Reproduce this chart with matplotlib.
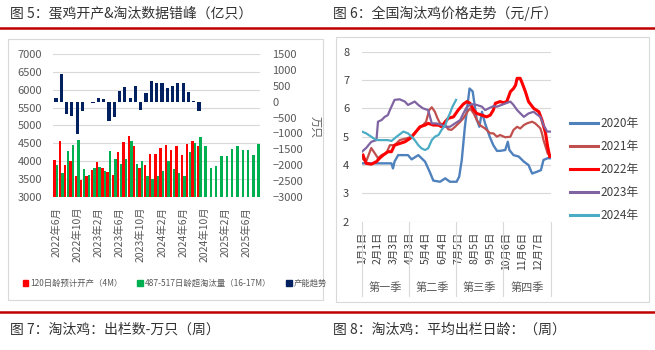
import numpy as np
import matplotlib.pyplot as plt
from matplotlib.lines import Line2D
from matplotlib.patches import Patch, Rectangle

plt.rcParams["font.family"] = ["Noto Sans CJK SC", "DejaVu Sans"]

# ---------------- 图5 data (monthly, 2022-06 .. 2025-08) ----------------
month_tick_labels = ["2022年6月", "2022年10月", "2023年2月", "2023年6月", "2023年10月",
                     "2024年2月", "2024年6月", "2024年10月", "2025年2月", "2025年6月"]
open_120d = [4030, 4580, 3900, 4020, 3600, 3480, 3590, 3750, 3990, 3800, 3700, 3610,
             4270, 4530, 4700, 4440, 3810, 3890, 4190, 4190, 4360, 4450, 4310, 4420,
             4170, 4480, 4570, 4430] + [np.nan] * 11
cull_487_517d = [3900, 3680, 4290, 4450, 4600, 3770, 3610, 3800, 3830, 3720, 4290, 4070,
                 3930, 4050, 4580, 3910, 4020, 3600, 3490, 3580, 3740, 4000, 3790, 3670,
                 3590, 4270, 4500, 4690, 4420, 3800, 3870, 4160, 4160, 4340, 4430, 4310,
                 4310, 4170, 4480]
capacity_trend = [100, 870, -400, -450, -1030, -300, -20, -50, 125, 72, -610, -480,
                  320, 450, 100, 500, -250, 260, 650, 590, 580, 430, 490, 600,
                  580, 300, 30, -280] + [np.nan] * 11
bar_legend = ["120日龄预计开产（4M）", "487-517日龄超淘汰量（16-17M）", "产能趋势"]

# ---------------- 图6 data (day of year, 元/斤) ----------------
day_ticks = [0, 31, 62, 93, 124, 155, 186, 217, 248, 279, 310, 341]
day_tick_labels = ["1月1日", "2月1日", "3月3日", "4月3日", "5月4日", "6月4日",
                   "7月5日", "8月5日", "9月5日", "10月6日", "11月6日", "12月7日"]
quarter_labels = ["第一季", "第二季", "第三季", "第四季"]
quarter_edges = [-0.5, 90.5, 181.5, 273.5, 365.5]

days_2020 = [2, 34, 57, 60, 63, 70, 89, 96, 109, 122, 131, 138, 151, 161, 170, 183, 188,
             193, 199, 208, 214, 222, 227, 232, 238, 247, 254, 261, 267, 277, 282, 285,
             293, 303, 313, 322, 329, 338, 346, 351, 359, 365]
price_2020 = [4.06, 4.06, 4.06, 3.88, 4.12, 4.35, 4.35, 4.2, 4.35, 4.12, 3.76, 3.45,
              3.41, 3.53, 3.41, 3.41, 3.59, 4.18, 5.35, 6.7, 6.6, 5.6, 5.35, 5.88, 5.47,
              5.0, 4.7, 4.5, 4.5, 4.53, 4.82, 4.53, 4.35, 4.3, 4.12, 4.0, 3.7, 3.76,
              3.82, 4.18, 4.24, 4.24]
days_2021 = [0, 8, 18, 25, 31, 38, 47, 54, 63, 73, 86, 96, 104, 118, 124, 130, 135, 141,
             146, 151, 161, 167, 173, 180, 190, 196, 204, 209, 216, 222, 228, 238, 248,
             254, 261, 267, 277, 287, 293, 300, 306, 313, 319, 329, 335, 342, 345, 348,
             351, 355, 359, 363]
price_2021 = [4.24, 4.12, 4.6, 4.41, 4.24, 4.35, 4.41, 4.7, 4.7, 4.88, 4.94, 5.0, 5.18,
              5.41, 5.53, 5.94, 6.04, 5.88, 5.65, 5.47, 5.41, 5.26, 5.24, 5.35, 5.53,
              5.65, 5.88, 6.0, 5.82, 5.59, 5.41, 5.29, 5.12, 5.12, 5.0, 5.06, 4.98, 5.0,
              5.24, 5.35, 5.29, 5.41, 5.47, 5.53, 5.47, 5.35, 5.29, 5.12, 4.88, 4.65,
              4.41, 4.35]
days_2022 = [2, 8, 18, 28, 34, 41, 50, 57, 63, 73, 83, 93, 102, 112, 122, 128, 138, 148,
             154, 161, 167, 177, 186, 196, 203, 209, 216, 222, 232, 241, 248, 254, 258,
             267, 274, 280, 287, 293, 297, 300, 306, 310, 316, 322, 332, 342, 348, 355,
             359, 363]
price_2022 = [4.35, 4.06, 4.03, 4.12, 4.24, 4.35, 4.47, 4.47, 4.7, 4.76, 4.82, 4.94,
              5.12, 5.35, 5.41, 5.47, 5.41, 5.41, 5.35, 5.53, 5.65, 5.7, 5.94, 6.15,
              6.24, 6.18, 5.94, 5.82, 5.76, 5.7, 5.76, 5.94, 6.18, 6.24, 6.2, 6.24, 6.59,
              6.7, 6.82, 7.06, 7.06, 6.88, 6.59, 6.24, 6.0, 5.88, 5.59, 5.12, 4.65, 4.3]
days_2023 = [0, 8, 18, 28, 31, 38, 44, 50, 54, 63, 73, 83, 89, 102, 109, 118, 128, 135,
             144, 154, 161, 170, 180, 190, 196, 203, 212, 222, 232, 238, 245, 254, 261,
             274, 287, 293, 300, 313, 322, 332, 338, 345, 351, 358, 365]
price_2023 = [4.47, 4.6, 4.82, 4.88, 5.53, 5.59, 5.7, 5.76, 5.94, 6.3, 6.32, 6.24, 6.12,
              6.24, 6.12, 6.0, 5.94, 5.47, 5.47, 5.41, 5.35, 5.35, 5.47, 5.59, 5.82,
              6.06, 6.15, 6.12, 6.06, 5.94, 6.0, 6.08, 6.06, 6.15, 6.24, 6.12, 5.94,
              5.7, 5.82, 5.88, 5.79, 5.7, 5.41, 5.18, 5.18]
days_2024 = [0, 8, 18, 25, 31, 50, 57, 67, 80, 89, 96, 102, 109, 115, 122, 128, 135,
             141, 148, 154, 161, 167, 170, 175, 182]
price_2024 = [5.18, 5.12, 5.0, 4.91, 4.88, 4.88, 4.85, 5.0, 5.18, 5.12, 5.0, 4.88, 4.7,
              4.59, 4.53, 4.59, 4.88, 5.0, 5.06, 5.24, 5.41, 5.7, 5.82, 6.06, 6.3]


def fx(px):
    return px / 655


def fy(py):
    return 1 - py / 350


GRID = "#D9D9D9"
TICK = "#595959"

fig = plt.figure(figsize=(6.55, 3.5), dpi=100)

# header / footer rules and captions
for y in (28, 312):
    fig.add_artist(Line2D([0, 1], [fy(y), fy(y)], color="#C00000", lw=1.8))
fig.text(fx(10), fy(13), "图 5：蛋鸡开产&淘汰数据错峰（亿只）", fontsize=10, va="center", color="#333333")
fig.text(fx(333), fy(13), "图 6：全国淘汰鸡价格走势（元/斤）", fontsize=10, va="center", color="#333333")
fig.text(fx(10), fy(330), "图 7：淘汰鸡：出栏数-万只（周）", fontsize=10, va="center", color="#333333")
fig.text(fx(333), fy(330), "图 8：淘汰鸡：平均出栏日龄：（周）", fontsize=10, va="center", color="#333333")
fig.add_artist(Rectangle((fx(8), fy(300)), fx(315), (300 - 39) / 350, fill=False,
                         ec=GRID, lw=0.8, transform=fig.transFigure))
fig.add_artist(Rectangle((fx(336), fy(302)), fx(313), (302 - 37) / 350, fill=False,
                         ec=GRID, lw=0.8, transform=fig.transFigure))

# ---------------- 图5 ----------------
ax1 = fig.add_axes([fx(53.3), fy(197), fx(206.7), (197 - 54) / 350])
x = np.arange(len(cull_487_517d))
ax1.bar(x - 0.25, open_120d, width=0.46, color="#FF0000", zorder=2)
ax1.bar(x + 0.25, cull_487_517d, width=0.46, color="#00B050", zorder=2)
ax1.set_ylim(3000, 7000)
ax1.set_xlim(-0.5, len(x) - 0.5)
ax1.set_yticks(range(3000, 7001, 500))
ax1.yaxis.grid(True, color=GRID, lw=0.8)
ax1.set_axisbelow(True)
ax1.set_xticks(range(0, len(x), 4), month_tick_labels, rotation=90)
ax1.tick_params(axis="x", length=0, pad=7, labelsize=7.5, labelcolor=TICK)
ax1.tick_params(axis="y", length=0, pad=8, labelsize=8, labelcolor=TICK)
for s in ax1.spines.values():
    s.set_visible(False)

ax1b = ax1.twinx()
ax1b.bar(x, capacity_trend, width=0.6, color="#002060", zorder=3)
ax1b.set_ylim(-3000, 1500)
ax1b.set_yticks(range(-3000, 1501, 500))
ax1b.tick_params(axis="y", length=0, pad=9, labelsize=8, labelcolor=TICK)
for s in ax1b.spines.values():
    s.set_visible(False)
fig.text(fx(314), fy(127), "万只", rotation=270, fontsize=8, color=TICK, ha="center", va="center")

fig.legend([Patch(color="#FF0000"), Patch(color="#00B050"), Patch(color="#002060")], bar_legend,
           loc="center", bbox_to_anchor=(fx(175), fy(283)), ncol=3, fontsize=6,
           frameon=False, handlelength=0.7, handleheight=0.7, handletextpad=0.2,
           columnspacing=1.8, labelcolor=TICK)

# ---------------- 图6 ----------------
ax2 = fig.add_axes([fx(361.7), fy(221.7), fx(189.3), (221.7 - 51.7) / 350])
series = [
    ("2020年", days_2020, price_2020, "#4F81BD", 1.7),
    ("2021年", days_2021, price_2021, "#C0504D", 1.6),
    ("2022年", days_2022, price_2022, "#FF0000", 2.2),
    ("2023年", days_2023, price_2023, "#8064A2", 1.6),
    ("2024年", days_2024, price_2024, "#4BACC6", 1.6),
]
for name, d, p, c, lw in series:
    ax2.plot(d, p, color=c, lw=lw, label=name, solid_joinstyle="round")
ax2.set_xlim(-0.5, 365.5)
ax2.set_ylim(2, 8)
ax2.set_yticks(range(2, 9))
ax2.yaxis.grid(True, color=GRID, lw=0.8)
ax2.set_axisbelow(True)
ax2.set_xticks(day_ticks, day_tick_labels, rotation=90)
ax2.tick_params(axis="x", length=0, pad=7, labelsize=7.5, labelcolor="#404040")
ax2.tick_params(axis="y", length=0, pad=9, labelsize=8, labelcolor="#404040")
for s in ax2.spines.values():
    s.set_visible(False)
xt = ax2.get_xaxis_transform()
for b in quarter_edges:
    ax2.plot([b, b], [0, -0.44], transform=xt, clip_on=False, color=GRID, lw=0.8)
for i, q in enumerate(quarter_labels):
    mid = (quarter_edges[i] + quarter_edges[i + 1]) / 2
    ax2.text(mid, -0.39, q, transform=xt, ha="center", va="center", fontsize=8, color=TICK)

leg = ax2.legend(loc="center left", bbox_to_anchor=(fx(570), fy(169.5)),
                 bbox_transform=fig.transFigure, frameon=False, fontsize=8.5,
                 handlelength=2.4, labelspacing=0.85, borderpad=0, borderaxespad=0,
                 handletextpad=0.2, labelcolor="#404040")
for h in leg.get_lines():
    h.set_linewidth(2.2)

fig.savefig("out.png", dpi=100, facecolor="white")
